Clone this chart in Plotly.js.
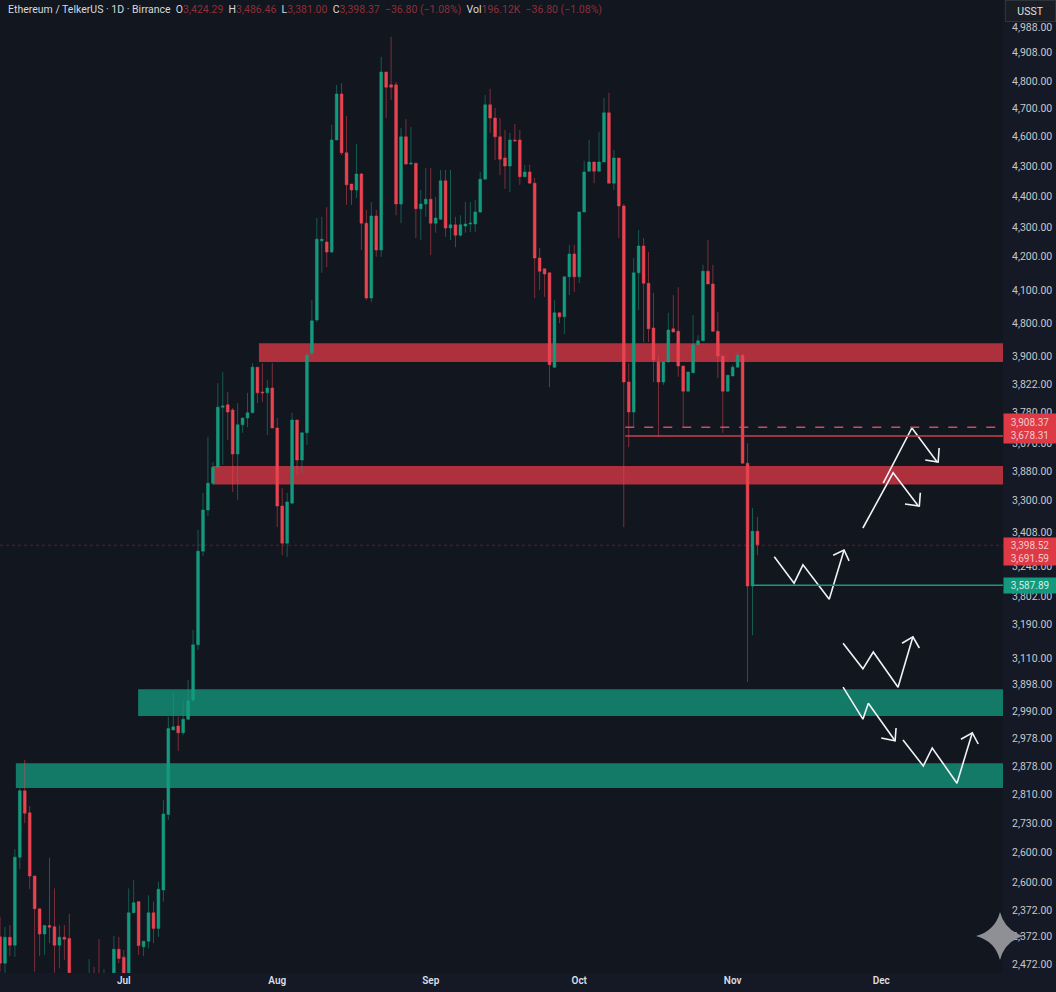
<!DOCTYPE html>
<html><head><meta charset="utf-8">
<script src="https://cdn.plot.ly/plotly-3.0.1.min.js"></script>
<style>html,body{margin:0;padding:0;background:#141925}#c{width:1056px;height:992px}</style>
</head><body><div id="c"></div><script>
const openV=[2688,2622,2687,2667,2887,3053,2998,2840,2758,2695,
2716,2713,2667,2687,2684,2590,2560,2535,2560,2580,
2575,2555,2570,2598,2657,2637,2597,2748,2776,2663,
2677,2748,2709,2805,2994,3205,3215,3198,3232,3280,
3418,3652,3755,3822,3862,4012,4018,4005,3895,3968,
3985,3998,4112,4050,4048,4060,3960,3765,3672,3772,
3980,3880,3948,4148,4230,4428,4425,4400,4680,4795,
4648,4570,4555,4595,4472,4285,4490,4405,4850,4818,
4818,4520,4688,4620,4622,4508,4520,4532,4472,4482,
4578,4460,4468,4442,4465,4470,4470,4500,4582,4768,
4735,4688,4635,4615,4680,4680,4588,4600,4572,4385,
4358,4348,4112,4248,4238,4338,4395,4338,4500,4602,
4625,4602,4625,4748,4572,4635,4515,4075,4000,4348,
4415,4322,4210,4125,4075,4125,4208,4202,4115,4052,
4098,4168,4178,4352,4320,4202,4140,4052,4090,4112,
4142,3872,3565,3702];
const highV=[2738,2713,2717,2907,3059,3130,3015,2840,2758,2717,
2886,2809,2717,2717,2745,2595,2575,2570,2632,2613,
2682,2607,2595,2690,2688,2655,2809,2830,2776,2677,
2792,2776,2826,3030,3238,3301,3238,3280,3330,3455,
3705,3798,3938,3875,4072,4100,4050,4010,4022,3985,
4048,4122,4112,4122,4080,4122,3985,3810,3798,3998,
3980,3948,4145,4280,4485,4488,4512,4718,4818,4822,
4740,4570,4670,4598,4505,4525,4505,4888,4850,4938,
4825,4710,4732,4712,4622,4555,4610,4610,4538,4605,
4605,4605,4488,4492,4525,4525,4530,4600,4792,4808,
4760,4735,4705,4698,4720,4705,4618,4618,4585,4410,
4358,4348,4280,4248,4338,4418,4418,4500,4628,4680,
4625,4700,4785,4798,4655,4635,4520,4122,4385,4455,
4435,4400,4298,4142,4125,4248,4292,4312,4115,4100,
4242,4192,4368,4430,4368,4250,4140,4092,4118,4148,
4145,3922,3760,3738];
const lowV=[2601,2597,2640,2638,2857,2972,2807,2601,2640,2643,
2672,2598,2609,2630,2597,2540,2530,2520,2550,2550,
2540,2540,2560,2597,2622,2592,2592,2747,2643,2640,
2659,2672,2688,2776,2980,3205,3153,3192,3230,3275,
3405,3640,3740,3818,3862,3868,3930,3800,3780,3948,
3962,3998,4022,4025,3942,3960,3712,3642,3638,3772,
3842,3848,3918,4142,4225,4348,4362,4398,4680,4642,
4518,4518,4535,4405,4280,4275,4388,4388,4735,4780,
4492,4472,4618,4618,4435,4430,4488,4392,4448,4480,
4438,4430,4412,4438,4448,4450,4450,4498,4582,4698,
4630,4592,4558,4550,4675,4568,4588,4572,4285,4305,
4288,4062,4110,4222,4195,4292,4300,4322,4500,4602,
4572,4602,4625,4572,4555,4435,3712,3912,3962,4255,
4175,4175,4075,3938,4068,4125,4200,4088,3962,4052,
4098,4168,4178,4320,4200,4085,3948,4050,4090,4112,
3872,3325,3442,3642];
const closeV=[2622,2687,2667,2887,3053,2997,2840,2758,2695,2716,
2712,2667,2687,2682,2598,2560,2540,2560,2580,2570,
2555,2570,2590,2657,2634,2597,2748,2773,2666,2677,
2748,2709,2807,2995,3209,3213,3198,3232,3278,3418,
3652,3755,3822,3862,4012,4015,4000,3895,3968,3985,
3998,4112,4048,4048,4060,3960,3765,3672,3775,3980,
3880,3948,4142,4228,4432,4432,4400,4680,4795,4648,
4568,4555,4595,4472,4285,4490,4405,4850,4812,4812,
4520,4688,4620,4622,4508,4520,4532,4472,4485,4578,
4460,4468,4442,4468,4470,4472,4500,4582,4768,4735,
4688,4632,4615,4680,4678,4588,4600,4572,4385,4352,
4345,4118,4248,4238,4338,4395,4338,4500,4600,4625,
4602,4625,4748,4572,4635,4515,4075,4000,4348,4415,
4322,4208,4130,4075,4125,4205,4200,4115,4052,4100,
4168,4178,4352,4320,4202,4140,4052,4092,4112,4142,
3872,3565,3702,3668];

const monthTicks=['2025-07-01','2025-08-01','2025-09-01','2025-10-01','2025-11-01','2025-12-01'];
const monthLabels=['Jul','Aug','Sep','Oct','Nov','Dec'];
const priceTickVals=[4962,4900,4827,4760,4688,4615,4538,4462,4388,4305,4222,4138,4070,4000,3922,3852,3778,3700,3615,3540,3468,3385,3320,3252,3185,3115,3045,2972,2900,2825,2755,2688,2620];
const priceTickText=['4,988.00','4,908.00','4,800.00','4,700.00','4,600.00','4,300.00','4,400.00','4,300.00','4,200.00','4,100.00','4,800.00','3,900.00','3,822.00','3,780.00','3,670.00','3,880.00','3,300.00','3,408.00','3,248.00','3,802.00','3,190.00','3,110.00','3,898.00','2,990.00','2,978.00','2,878.00','2,810.00','2,730.00','2,600.00','2,600.00','2,372.00','2,372.00','2,472.00'];

// supply / demand zones: day offset where each begins, lower and upper price
const zoneStart=[52.3,43,27.9,3.2];
const zoneLow=[4125,3819,3240,3060];
const zoneHigh=[4172,3865,3307,3122];
const zoneColor=['#ad303c','#ad303c','#127a66','#127a66'];

const levelStart=[126.3,126.3,152];
const levelPrice=[3962,3940,3567];
const lastPrice=3667;

// hand-drawn scenario arrows: [day offset, price]
const arrowPaths=[
[[156.4,3638],[160.4,3572],[162.2,3618],[167.5,3532],[170.5,3655]],
[[168.3,3642],[170.5,3655],[171.5,3628]],
[[174.3,3710],[180.4,3848],[185.5,3765]],
[[182.8,3770],[185.7,3765],[185.9,3798]],
[[178.4,3822],[184.2,3960],[189.3,3875]],
[[186.9,3880],[189.5,3875],[189.7,3910]],
[[170.3,3422],[174.3,3358],[176.4,3400],[181.4,3312],[184.4,3438]],
[[182.2,3422],[184.4,3438],[185.7,3410]],
[[170.3,3312],[174.3,3232],[175.4,3272],[180.8,3178]],
[[178,3185],[180.8,3178],[181,3210]],
[[182.4,3180],[186.5,3115],[188.3,3160],[193.3,3072],[196.4,3198]],
[[194.1,3182],[196.4,3198],[197.6,3170]]
];

const dayMs=864e5, start=Date.UTC(2025,5,6);
const dayOf=i=>new Date(start+i*dayMs).toISOString().slice(0,19).replace('T',' ');
const dates=openV.map((_,i)=>dayOf(i));
const lastDay=202.6;

const traces=[{
  type:'candlestick',x:dates,open:openV,high:highV,low:lowV,close:closeV,
  increasing:{line:{color:'rgba(24,160,130,0.5)',width:1},fillcolor:'#139a7e'},
  decreasing:{line:{color:'rgba(236,70,84,0.5)',width:1},fillcolor:'#ea4350'},
  hoverinfo:'skip',showlegend:false
}];
arrowPaths.forEach(p=>traces.push({
  type:'scatter',mode:'lines',x:p.map(q=>dayOf(q[0])),y:p.map(q=>q[1]),
  line:{color:'#f0f2f4',width:1.6,simplify:false},hoverinfo:'skip',showlegend:false
}));

const shapes=[];
zoneStart.forEach((s,i)=>shapes.push({type:'rect',layer:'below',xref:'x',yref:'y',x0:dayOf(s),x1:dayOf(lastDay),y0:zoneLow[i],y1:zoneHigh[i],fillcolor:zoneColor[i],line:{width:0}}));
const lvl=(i,color,dash)=>({type:'line',layer:'above',xref:'x',yref:'y',x0:dayOf(levelStart[i]),x1:dayOf(lastDay),y0:levelPrice[i],y1:levelPrice[i],line:{color,width:1.5,dash}});
shapes.push(lvl(0,'#cf4a5e','9px,10px'),lvl(1,'#c8414e','solid'),lvl(2,'#169a7e','solid'));
shapes.push({type:'line',layer:'below',xref:'x',yref:'y',x0:dayOf(0),x1:dayOf(lastDay),y0:lastPrice,y1:lastPrice,line:{color:'rgba(190,60,70,0.4)',width:1,dash:'dot'}});
// watermark sparkle
shapes.push({type:'path',layer:'above',xref:'paper',yref:'paper',fillcolor:'#8e9096',line:{width:0},
 path:'M 0.997 0.0627 Q 1.002 0.0432 1.0209 0.038 Q 1.002 0.0328 0.997 0.0134 Q 0.992 0.0328 0.9731 0.038 Q 0.992 0.0432 0.997 0.0627 Z'});

const red='#8e2f3a';
const sp=t=>`<span style="color:${red}">${t}</span>`;
const header='Ethereum / TelkerUS · 1D · Birrance &nbsp;O'+sp('3,424.29')+' &nbsp;H'+sp('3,486.46')+' &nbsp;L'+sp('3,381.00')+' &nbsp;C'+sp('3,398.37 &nbsp;−36.80 (−1.08%)')+' &nbsp;Vol'+sp('196.12K &nbsp;−36.80 (−1.08%)');
const tag=(y,text,bg,h)=>({xref:'paper',yref:'y',x:1,y,xanchor:'left',yanchor:'middle',text,showarrow:false,align:'center',bgcolor:bg,width:52,height:h,borderpad:0,font:{family:'Roboto',size:10,color:'#f3c9cb'}});
const annotations=[
 {xref:'paper',yref:'paper',x:0.006,y:0.9907,xanchor:'left',yanchor:'middle',text:header,showarrow:false,font:{family:'Roboto',size:10.5,color:'#d6d9de'}},
 tag(3960,'3,908.37<br>3,678.31','#de3a45',29),
 tag(3652,'3,398.52<br>3,691.59','#de3a45',27),
 Object.assign(tag(3566,'3,587.89','#139a7e',15),{font:{family:'Roboto',size:10,color:'#cfeee5'}}),
 {xref:'paper',yref:'paper',x:1.0015,y:1.0,xanchor:'left',yanchor:'top',text:'USST',showarrow:false,bgcolor:'#1a1d23',bordercolor:'#30333a',borderwidth:1,width:49,height:20,borderpad:0,font:{family:'Roboto',size:10.5,color:'#dfe1e4'}}
];

Plotly.newPlot('c',traces,{
  width:1056,height:992,
  margin:{l:0,r:53,t:0,b:19,pad:0},
  paper_bgcolor:'#141925',plot_bgcolor:'#11161f',
  showlegend:false,hovermode:false,boxgap:0.2,
  xaxis:{type:'date',range:[dayOf(0),dayOf(lastDay)],rangeslider:{visible:false},showgrid:false,zeroline:false,showline:false,
    tickmode:'array',tickvals:monthTicks,ticktext:monthLabels,ticks:'',tickfont:{family:'Roboto',size:10,color:'#dcdee2',weight:600},fixedrange:true},
  yaxis:{side:'right',range:[2597.5,5030],showgrid:false,zeroline:false,showline:false,ticks:'',ticklen:0,
    tickmode:'array',tickvals:priceTickVals,ticktext:priceTickText,ticklabelstandoff:8,tickfont:{family:'Roboto',size:10.5,color:'#c4c8ce'},fixedrange:true},
  shapes,annotations
},{displayModeBar:false,staticPlot:true});
</script></body></html>
